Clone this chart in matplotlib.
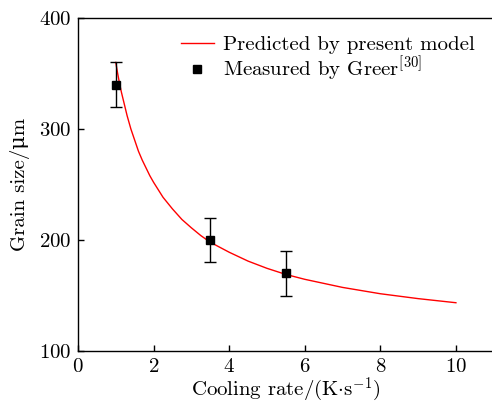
import numpy as np
import matplotlib
matplotlib.use("Agg")
import matplotlib.pyplot as plt

plt.rcParams["font.family"] = ["cmr10", "DejaVu Serif"]
plt.rcParams["mathtext.fontset"] = "cm"
plt.rcParams["axes.formatter.use_mathtext"] = True
plt.rcParams["axes.unicode_minus"] = False

# predicted curve
model_x = [1.0, 1.05, 1.1, 1.15, 1.2, 1.3, 1.4, 1.5, 1.6, 1.7, 1.8, 1.9, 2.0,
           2.25, 2.5, 2.75, 3.0, 3.25, 3.5, 4.0, 4.5, 5.0, 5.5, 6.0, 7.0,
           8.0, 9.0, 10.0]
model_y = [360, 350, 341, 333, 326, 312, 300, 290, 280, 272, 265, 258, 252,
           238.5, 228, 218.5, 211, 204, 198, 189, 181, 174.5, 169, 164.6,
           157.3, 151.6, 147.2, 143.5]

# measured (Greer)
meas_x = [1.0, 3.5, 5.5]
meas_y = [340, 200, 170]
meas_err = [20, 20, 20]

fs = 15

fig = plt.figure(figsize=(4.92, 4.05), dpi=100)
ax = fig.add_axes([0.1585, 0.1333, 0.845, 0.8222])

ax.plot(model_x, model_y, color="red", lw=1.0, label="Predicted by present model")
ax.errorbar(meas_x, meas_y, yerr=meas_err, fmt="s", color="black", ms=6,
            ecolor="black", elinewidth=1.0, capsize=4, capthick=1.0,
            label="Measured by Greer$^{[30]}$")

ax.set_xlim(0, 11)
ax.set_ylim(100, 400)
ax.set_xticks([0, 2, 4, 6, 8, 10])
ax.set_yticks([100, 200, 300, 400])
ax.tick_params(direction="in", length=4, width=1.0, labelsize=fs)
ax.tick_params(axis="x", pad=5)
ax.tick_params(axis="y", pad=5)
ax.spines["right"].set_visible(False)
for s in ["left", "bottom", "top"]:
    ax.spines[s].set_linewidth(1.0)

ax.set_xlabel(r"Cooling rate/(K$\cdot$s$^{-1}$)", fontsize=fs, labelpad=0)
ax.set_ylabel("Grain size/μm", fontsize=fs, labelpad=6)

h, l = ax.get_legend_handles_labels()
ax.legend([h[0], h[1][0]], l, loc="upper right", bbox_to_anchor=(0.985, 0.985),
          frameon=False, fontsize=fs, handlelength=1.6, handletextpad=0.45,
          labelspacing=0.02, borderaxespad=0.2)

fig.savefig("out.png", dpi=100)
